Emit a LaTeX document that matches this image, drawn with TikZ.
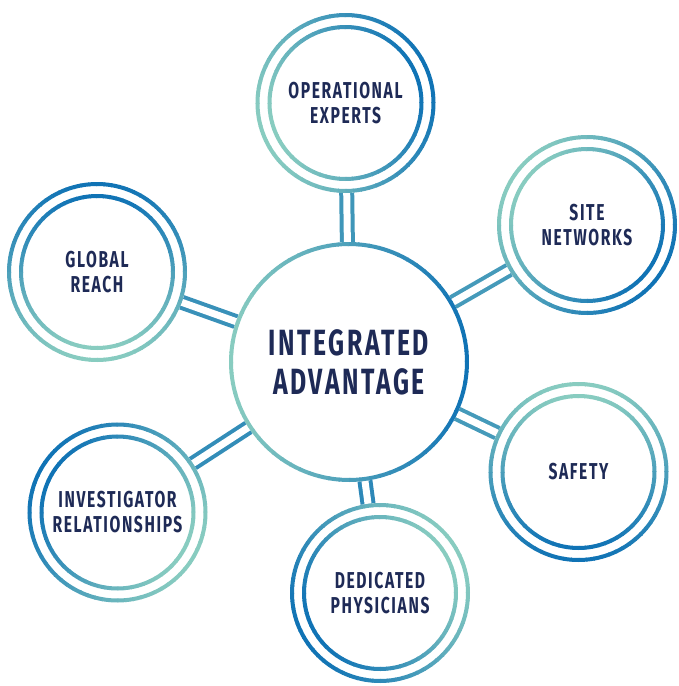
\documentclass[tikz,border=0pt]{standalone}
\usepackage{fontspec}
\setmainfont{Fira Sans}[FakeStretch=0.68,LetterSpace=7]
\definecolor{ringteal}{HTML}{88CCC0}
\definecolor{ringblue}{HTML}{0F72B5}
\definecolor{labelnavy}{HTML}{1E2A56}

% ring with a linear blend, blue towards angle #3
\newcommand{\gradring}[3]{%
  \foreach \a in {0,5,...,355}{
    \pgfmathtruncatemacro{\mix}{50+50*cos(\a+2.5-#3)}
    \draw[ring, draw=ringblue!\mix!ringteal]
      (#1.center) ++(\a:#2) arc[start angle=\a, delta angle=5.6, radius=#2];
  }
}

\begin{document}
\begin{tikzpicture}[x=1pt, y=1pt,
  ring/.style={line width=4pt},
  spoke/.style={circle, minimum size=180pt, inner sep=0pt, outer sep=0pt,
    align=center, text=labelnavy, font=\fontsize{23}{25}\selectfont\bfseries},
  hubnode/.style={circle, minimum size=240pt, inner sep=0pt, outer sep=0pt,
    align=center, text=labelnavy, font=\fontsize{36.5}{39}\selectfont\bfseries},
  link/.style={line width=4pt, double=white, double distance=7pt}
]
  \useasboundingbox (0,0) rectangle (678,-686);

  \node[hubnode] (hub) at (349,-362) {INTEGRATED\\ADVANTAGE};
  \node[spoke] (ops) at (345.5,-103) {OPERATIONAL\\EXPERTS};
  \node[spoke] (site) at (587,-225) {SITE\\NETWORKS};
  \node[spoke] (safety) at (578.5,-472) {SAFETY};
  \node[spoke] (phys) at (380,-593) {DEDICATED\\PHYSICIANS};
  \node[spoke] (inv) at (117.5,-512.5) {INVESTIGATOR\\RELATIONSHIPS};
  \node[spoke] (reach) at (97,-272) {GLOBAL\\REACH};

  % links first, rings on top
  \draw[link, draw=ringblue!60!ringteal] (hub) -- (ops);
  \draw[link, draw=ringblue!55!ringteal] (hub) -- (site);
  \draw[link, draw=ringblue!55!ringteal] (hub) -- (safety);
  \draw[link, draw=ringblue!75!ringteal] (hub) -- (phys);
  \draw[link, draw=ringblue!70!ringteal] (hub) -- (inv);
  \draw[link, draw=ringblue!65!ringteal] (hub) -- (reach);

  \gradring{hub}{118}{0}
  \gradring{ops}{88}{20}
  \gradring{ops}{76}{20}
  \gradring{site}{88}{-35}
  \gradring{site}{76}{-35}
  \gradring{safety}{88}{-90}
  \gradring{safety}{76}{-90}
  \gradring{phys}{88}{210}
  \gradring{phys}{76}{210}
  \gradring{inv}{88}{150}
  \gradring{inv}{76}{150}
  \gradring{reach}{88}{90}
  \gradring{reach}{76}{90}
\end{tikzpicture}
\end{document}
